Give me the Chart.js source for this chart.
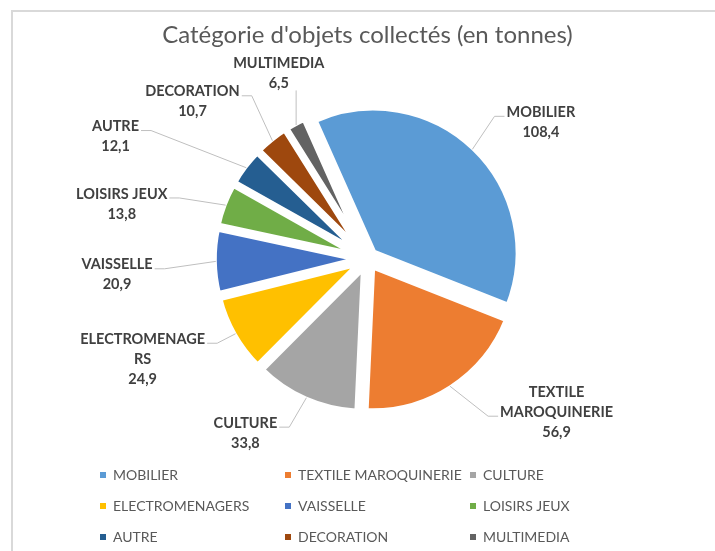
<!DOCTYPE html>
<html>
<head>
<meta charset="utf-8">
<script src="https://cdn.jsdelivr.net/npm/chart.js@4.4.0/dist/chart.umd.min.js"></script>
<style>
  html, body { margin: 0; padding: 0; background: #fff; }
  #wrap { position: relative; width: 715px; height: 551px; overflow: hidden; }
  #cadre { position: absolute; left: 11px; top: 10px; width: 720px; height: 560px;
           border-left: 2px solid #d9d9d9; border-top: 2px solid #d9d9d9; }
  canvas { position: absolute; left: 0; top: 0; }
</style>
</head>
<body>
<div id="wrap">
  <div id="cadre"></div>
  <canvas id="graficoCamembert" width="715" height="551"></canvas>
</div>
<script>
/* Donnees */
const categories = ['MOBILIER', 'TEXTILE MAROQUINERIE', 'CULTURE', 'ELECTROMENAGERS', 'VAISSELLE',
                    'LOISIRS JEUX', 'AUTRE', 'DECORATION', 'MULTIMEDIA'];
// texte des etiquettes tel qu'Excel le coupe
const lignesEtiquettes = [['MOBILIER'], ['TEXTILE', 'MAROQUINERIE'], ['CULTURE'], ['ELECTROMENAGE', 'RS'],
                          ['VAISSELLE'], ['LOISIRS JEUX'], ['AUTRE'], ['DECORATION'], ['MULTIMEDIA']];
const tonnes = [108.4, 56.9, 33.8, 24.9, 20.9, 13.8, 12.1, 10.7, 6.5];
const couleurs = ['#5b9bd5', '#ed7d31', '#a5a5a5', '#ffc000', '#4472c4',
                  '#70ad47', '#255e91', '#9e480e', '#636363'];

/* Mise en page */
const ROTATION = -24;      // angle de la premiere part
const ECLATEMENT = 8.7;    // distance d'eclatement des parts
const BORDURE = 6;
const HAUTEUR_LIGNE = 20;
// decalage de chaque etiquette par rapport au bord de sa part
const decalageEtiquettes = [[68.5, -27], [106.6, 26], [-61, 35.4], [-92.9, 25.5], [-98.8, 13.4],
                            [-103.9, -1.2], [-130.7, -31.2], [-79.9, -38.9], [-17.4, -51.6]];

// eclate les parts le long de leur angle median
const eclatement = {
    id: 'eclatement',
    afterDatasetUpdate(chart, args) {
        args.meta.data.forEach(arc => {
            const mid = (arc.startAngle + arc.endAngle) / 2;
            arc.x += Math.cos(mid) * ECLATEMENT;
            arc.y += Math.sin(mid) * ECLATEMENT;
        });
    }
};

// etiquettes de donnees avec lignes de rappel
const etiquettes = {
    id: 'etiquettes',
    afterDatasetsDraw(chart) {
        const ctx = chart.ctx;
        const arcs = chart.getDatasetMeta(0).data;
        ctx.save();
        ctx.font = 'bold 14.5px Lato';
        ctx.textAlign = 'center';
        ctx.textBaseline = 'middle';
        arcs.forEach((arc, i) => {
            const mid = (arc.startAngle + arc.endAngle) / 2;
            const r = arc.outerRadius - BORDURE / 2 + 1;
            const ex = arc.x + Math.cos(mid) * r;
            const ey = arc.y + Math.sin(mid) * r;
            const lignes = lignesEtiquettes[i].concat(tonnes[i].toFixed(1).replace('.', ','));
            const cx = ex + decalageEtiquettes[i][0];
            const cy = ey + decalageEtiquettes[i][1];
            const haut = cy - lignes.length * HAUTEUR_LIGNE / 2;
            let largeur = 0, plusLarge = 0;
            lignes.forEach((t, k) => {
                const w = ctx.measureText(t).width;
                if (w > largeur) { largeur = w; plusLarge = k; }
            });
            const gauche = cx - largeur / 2, droite = cx + largeur / 2;

            ctx.strokeStyle = '#bfbfbf';
            ctx.lineWidth = 1;
            ctx.beginPath();
            ctx.moveTo(ex, ey);
            if (ex >= gauche && ex <= droite) {
                ctx.lineTo(ex, haut + lignes.length * HAUTEUR_LIGNE - 3);
            } else {
                const aDroite = ex < gauche;
                const sy = haut + plusLarge * HAUTEUR_LIGNE + HAUTEUR_LIGNE / 2 + 4;
                const sx = aDroite ? gauche - 2 : droite + 2;
                ctx.lineTo(aDroite ? sx - 10 : sx + 10, sy);
                ctx.lineTo(sx, sy);
            }
            ctx.stroke();

            ctx.fillStyle = '#404040';
            lignes.forEach((t, k) => ctx.fillText(t, cx, haut + k * HAUTEUR_LIGNE + HAUTEUR_LIGNE / 2));
        });
        ctx.restore();
    }
};

// legende en grille de 3 colonnes
const legende = {
    id: 'legende',
    afterDraw(chart) {
        const ctx = chart.ctx;
        ctx.save();
        ctx.font = '14px Lato';
        ctx.textAlign = 'left';
        ctx.textBaseline = 'middle';
        categories.forEach((nom, i) => {
            const x = 100 + (i % 3) * 185;
            const y = 475 + Math.floor(i / 3) * 31;
            ctx.fillStyle = couleurs[i];
            ctx.fillRect(x, y - 3, 6, 6);
            ctx.fillStyle = '#595959';
            ctx.fillText(nom, x + 13, y);
        });
        ctx.restore();
    }
};

function dessiner() {
    const ctx = document.getElementById('graficoCamembert').getContext('2d');
    new Chart(ctx, {
        type: 'pie',
        data: {
            labels: categories,
            datasets: [{
                data: tonnes,
                backgroundColor: couleurs,
                borderColor: '#ffffff',
                borderWidth: BORDURE
            }]
        },
        options: {
            responsive: false,
            animation: false,
            radius: 145,
            rotation: ROTATION,
            layout: { padding: { top: 12, left: 20, right: 0, bottom: 90 } },
            plugins: {
                legend: { display: false },
                tooltip: { enabled: false },
                title: {
                    display: true,
                    text: "Catégorie d'objets collectés (en tonnes)",
                    color: '#595959',
                    font: { family: 'Lato', size: 24, weight: 'normal' },
                    padding: { top: 9, bottom: 7 }
                }
            }
        },
        plugins: [eclatement, etiquettes, legende]
    });
}

Promise.all([
    document.fonts.load('bold 14.5px Lato'),
    document.fonts.load('14px Lato'),
    document.fonts.load('24px Lato')
]).then(dessiner, dessiner);
</script>
</body>
</html>
